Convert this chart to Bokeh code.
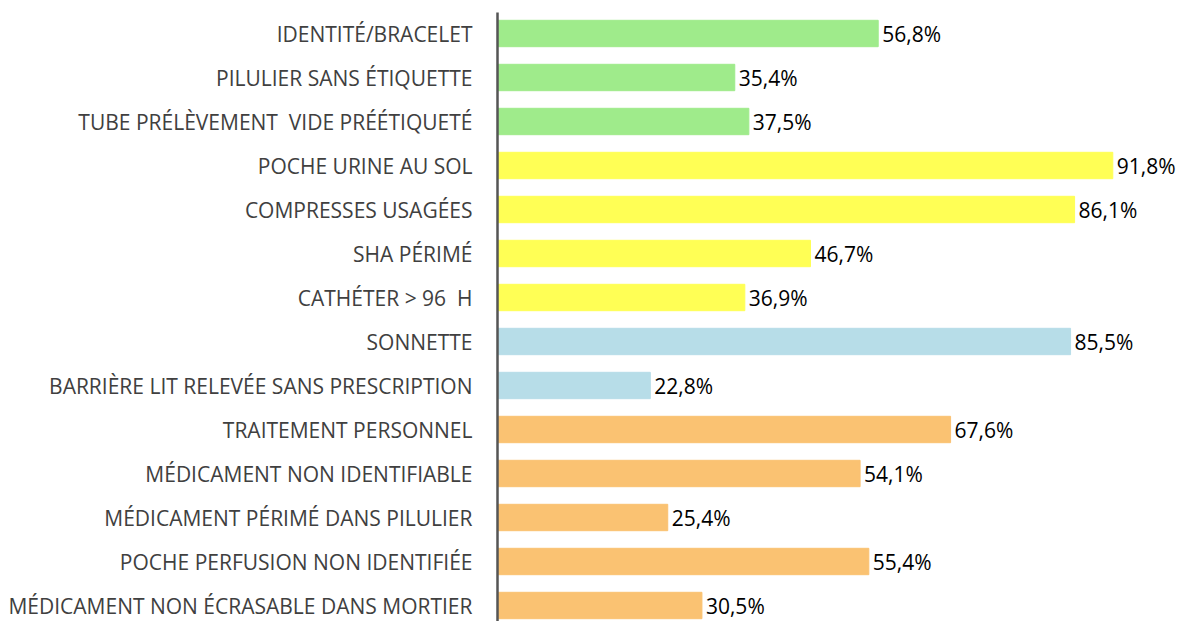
from bokeh.plotting import figure
from bokeh.models import ColumnDataSource, Range1d, FixedTicker, LabelSet
from bokeh.core.properties import value
from bokeh.embed import file_html
from bokeh.resources import INLINE

categories = [
    "IDENTITÉ/BRACELET",
    "PILULIER SANS ÉTIQUETTE",
    "TUBE PRÉLÈVEMENT \u00a0VIDE PRÉÉTIQUETÉ",
    "POCHE URINE AU SOL",
    "COMPRESSES USAGÉES",
    "SHA PÉRIMÉ",
    "CATHÉTER > 96 \u00a0H",
    "SONNETTE",
    "BARRIÈRE LIT RELEVÉE SANS PRESCRIPTION",
    "TRAITEMENT PERSONNEL",
    "MÉDICAMENT NON IDENTIFIABLE",
    "MÉDICAMENT PÉRIMÉ DANS PILULIER",
    "POCHE PERFUSION NON IDENTIFIÉE",
    "MÉDICAMENT NON ÉCRASABLE DANS MORTIER",
]
values = [56.8, 35.4, 37.5, 91.8, 86.1, 46.7, 36.9, 85.5, 22.8, 67.6, 54.1, 25.4, 55.4, 30.5]
groups = ["id", "id", "id", "hyg", "hyg", "hyg", "hyg", "sec", "sec",
          "med", "med", "med", "med", "med"]
group_colors = {"id": "#9FEB8B", "hyg": "#FFFF55", "sec": "#B7DDE8", "med": "#FAC272"}

pos = list(range(len(categories)))
labels = [f"{v:.1f}%".replace(".", ",") for v in values]
colors = [group_colors[g] for g in groups]

src = ColumnDataSource(dict(y=pos, v=values, lab=labels, color=colors))

H = 621
top_b = 12
p = figure(width=1190, height=H, output_backend="svg", toolbar_location=None,
           x_range=Range1d(0, 102.2),
           y_range=Range1d(len(categories) - 1 + ((H - top_b) - 21 - 44 * 13) / 44, -21 / 44),
           min_border_left=497, min_border_right=8, min_border_top=top_b, min_border_bottom=0)

p.hbar(y="y", right="v", left=0, height=0.6, color="color", source=src)

p.add_layout(LabelSet(x="v", y="y", text="lab", source=src, x_offset=4, y_offset=0,
                      text_baseline="middle", text_font=value("Open Sans"),
                      text_font_size="21px", text_color="#000000"))

p.xaxis.visible = False
p.xgrid.visible = False
p.ygrid.visible = False
p.outline_line_color = None

ax = p.yaxis[0]
ax.ticker = FixedTicker(ticks=pos)
ax.major_label_overrides = {i: c for i, c in zip(pos, categories)}
ax.major_tick_line_color = None
ax.minor_tick_line_color = None
ax.major_label_standoff = 19
ax.major_label_text_font = "Open Sans"
ax.major_label_text_font_size = "21px"
ax.major_label_text_color = "#404040"
ax.axis_line_color = "#555555"
ax.axis_line_width = 2.5

open("out.html", "w").write(file_html(p, INLINE))
